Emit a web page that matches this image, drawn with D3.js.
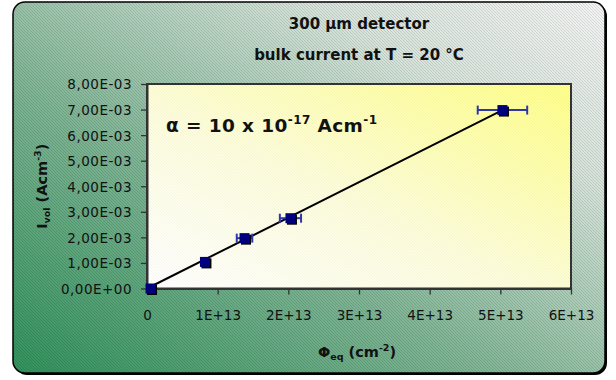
<!DOCTYPE html>
<html>
<head>
<meta charset="utf-8">
<script src="https://cdn.jsdelivr.net/npm/d3@7"></script>
<style>
  html, body { margin: 0; padding: 0; background: #ffffff; }
  svg { display: block; }
  .tick-label { font-family: "DejaVu Sans", Verdana, sans-serif; font-size: 13.5px; fill: #111; }
  .title { font-family: "DejaVu Sans", sans-serif; font-weight: bold; fill: #111; }
</style>
</head>
<body>
<svg id="chart" width="616" height="380"></svg>
<script>
// Fluence (cm^-2) and volume-normalised bulk current (A/cm^3)
const fluence      = [0.05e13, 0.82e13, 1.38e13, 2.03e13, 5.03e13];
const current      = [0.0, 1.04e-3, 1.97e-3, 2.75e-3, 6.98e-3];
const fluenceError = [0.0, 0.03e13, 0.11e13, 0.15e13, 0.35e13];

// Linear fit through the origin
const fitSlope = 1.388e-16;
const fitRange = [0, 5.03e13];

// Axis ticks and their printed labels
const xTicks = [0, 1e13, 2e13, 3e13, 4e13, 5e13, 6e13];
const xTickLabels = ["0", "1E+13", "2E+13", "3E+13", "4E+13", "5E+13", "6E+13"];
const yTicks = [0, 1e-3, 2e-3, 3e-3, 4e-3, 5e-3, 6e-3, 7e-3, 8e-3];
const yTickLabels = ["0,00E+00", "1,00E-03", "2,00E-03", "3,00E-03", "4,00E-03",
                     "5,00E-03", "6,00E-03", "7,00E-03", "8,00E-03"];

const svg = d3.select("#chart");
const defs = svg.append("defs");

// Background gradient: green lower-left fading to pale grey upper-right
const bg = defs.append("linearGradient").attr("id", "bgGrad")
  .attr("x1", "0%").attr("y1", "100%").attr("x2", "100%").attr("y2", "0%");
bg.append("stop").attr("offset", "0%").attr("stop-color", "#31925c");
bg.append("stop").attr("offset", "40%").attr("stop-color", "#80b595");
bg.append("stop").attr("offset", "75%").attr("stop-color", "#d6e3da");
bg.append("stop").attr("offset", "100%").attr("stop-color", "#f4f4f4");

// Plot area gradient: white lower-left to yellow upper-right
const pg = defs.append("linearGradient").attr("id", "plotGrad")
  .attr("x1", "0%").attr("y1", "100%").attr("x2", "100%").attr("y2", "0%");
pg.append("stop").attr("offset", "0%").attr("stop-color", "#ffffff");
pg.append("stop").attr("offset", "45%").attr("stop-color", "#fdfddc");
pg.append("stop").attr("offset", "100%").attr("stop-color", "#ffff88");

// Diagonal hatching
function hatch(id, color, width) {
  const p = defs.append("pattern").attr("id", id)
    .attr("patternUnits", "userSpaceOnUse").attr("width", 3).attr("height", 3);
  p.append("path").attr("d", "M-1,-1 L4,4 M-1,2 L1,4 M2,-1 L4,1")
    .attr("stroke", color).attr("stroke-width", width).attr("fill", "none");
}
hatch("bgHatch", "rgba(0,0,0,0.17)", 0.7);
hatch("plotHatch", "rgba(120,120,120,0.10)", 0.6);

// Outer frame with shadow
const frame = { x: 13, y: 2, w: 592, h: 371, r: 12 };
svg.append("rect").attr("x", frame.x + 2).attr("y", frame.y + 2)
  .attr("width", frame.w).attr("height", frame.h).attr("rx", frame.r).attr("fill", "#000");
svg.append("rect").attr("x", frame.x).attr("y", frame.y)
  .attr("width", frame.w).attr("height", frame.h).attr("rx", frame.r)
  .attr("fill", "url(#bgGrad)").attr("stroke", "#000").attr("stroke-width", 1.5);
svg.append("rect").attr("x", frame.x).attr("y", frame.y)
  .attr("width", frame.w).attr("height", frame.h).attr("rx", frame.r)
  .attr("fill", "url(#bgHatch)");

// Plot geometry
const plot = { left: 147, right: 571, top: 84, bottom: 288.5 };
const x = d3.scaleLinear().domain([0, 6e13]).range([plot.left, plot.right]);
const y = d3.scaleLinear().domain([0, 8e-3]).range([plot.bottom, plot.top]);

svg.append("rect").attr("x", plot.left).attr("y", plot.top)
  .attr("width", plot.right - plot.left).attr("height", plot.bottom - plot.top)
  .attr("fill", "url(#plotGrad)");
svg.append("rect").attr("x", plot.left).attr("y", plot.top)
  .attr("width", plot.right - plot.left).attr("height", plot.bottom - plot.top)
  .attr("fill", "url(#plotHatch)").attr("stroke", "#333").attr("stroke-width", 2);

// Axes
const xAxis = d3.axisBottom(x).tickValues(xTicks)
  .tickFormat((d, i) => xTickLabels[i]).tickSize(6).tickSizeOuter(0).tickPadding(16);
const gx = svg.append("g").attr("transform", `translate(0,${plot.bottom})`).call(xAxis);
const yAxis = d3.axisLeft(y).tickValues(yTicks)
  .tickFormat((d, i) => yTickLabels[i]).tickSize(6).tickSizeOuter(0).tickPadding(9);
const gy = svg.append("g").attr("transform", `translate(${plot.left},0)`).call(yAxis);
[gx, gy].forEach(g => {
  g.select(".domain").attr("stroke", "#333").attr("stroke-width", 2);
  g.selectAll(".tick line").attr("stroke", "#333").attr("stroke-width", 1.3);
  g.selectAll(".tick text").attr("class", "tick-label").attr("font-size", null).attr("font-family", null);
});
gy.selectAll(".tick text").attr("dy", "0.36em").style("letter-spacing", "0.5px");

// Fit line
svg.append("line")
  .attr("x1", x(fitRange[0])).attr("y1", y(fitSlope * fitRange[0]))
  .attr("x2", x(fitRange[1])).attr("y2", y(fitSlope * fitRange[1]))
  .attr("stroke", "#000").attr("stroke-width", 2);

// Horizontal error bars
const data = fluence.map((f, i) => ({ f, c: current[i], e: fluenceError[i] }));
const eb = svg.append("g").attr("stroke", "#3038a8").attr("stroke-width", 2).attr("fill", "none");
data.filter(d => d.e > 0).forEach(d => {
  const yy = y(d.c), x0 = x(d.f - d.e), x1 = x(d.f + d.e);
  eb.append("line").attr("x1", x0).attr("x2", x1).attr("y1", yy).attr("y2", yy);
  eb.append("line").attr("x1", x0).attr("x2", x0).attr("y1", yy - 4.5).attr("y2", yy + 4.5);
  eb.append("line").attr("x1", x1).attr("x2", x1).attr("y1", yy - 4.5).attr("y2", yy + 4.5);
});

// Square markers with a small drop shadow
const ms = 10;
svg.append("g").selectAll("rect").data(data).join("rect")
  .attr("x", d => x(d.f) - ms / 2 + 1.5).attr("y", d => y(d.c) - ms / 2 + 1.5)
  .attr("width", ms).attr("height", ms).attr("fill", "#000");
svg.append("g").selectAll("rect").data(data).join("rect")
  .attr("x", d => x(d.f) - ms / 2).attr("y", d => y(d.c) - ms / 2)
  .attr("width", ms).attr("height", ms).attr("fill", "#00007f");

// Titles
const cx = (plot.left + plot.right) / 2;
svg.append("text").attr("class", "title").style("font-size", "15px")
  .attr("x", cx).attr("y", 29).attr("text-anchor", "middle").text("300 \u00b5m detector");
svg.append("text").attr("class", "title").style("font-size", "15px")
  .attr("x", cx).attr("y", 60).attr("text-anchor", "middle").text("bulk current at T = 20 \u00b0C");

// X axis title: Φeq (cm-2)
const xt = svg.append("text").attr("class", "title").style("font-size", "14.5px")
  .attr("x", cx - 2).attr("y", 357).attr("text-anchor", "middle");
xt.append("tspan").text("\u03a6");
xt.append("tspan").style("font-size", "9.5px").attr("dy", 3).text("eq");
xt.append("tspan").attr("dy", -3).text(" (cm");
xt.append("tspan").style("font-size", "9.5px").attr("dy", -6).text("-2");
xt.append("tspan").attr("dy", 6).text(")");

// Y axis title: Ivol (Acm-3)
const yt = svg.append("text").attr("class", "title").style("font-size", "14.5px")
  .attr("transform", `translate(47,${(plot.top + plot.bottom) / 2}) rotate(-90)`)
  .attr("text-anchor", "middle");
yt.append("tspan").text("I");
yt.append("tspan").style("font-size", "9.5px").attr("dy", 3).text("vol");
yt.append("tspan").attr("dy", -3).text(" (Acm");
yt.append("tspan").style("font-size", "9.5px").attr("dy", -6).text("-3");
yt.append("tspan").attr("dy", 6).text(")");

// Fit annotation
const an = svg.append("text").attr("class", "title")
  .style("font-size", "18.5px").style("letter-spacing", "0.4px")
  .attr("x", 166).attr("y", 132);
an.append("tspan").text("\u03b1 = 10 x 10");
an.append("tspan").style("font-size", "12px").attr("dy", -8).text("-17");
an.append("tspan").attr("dy", 8).text(" Acm");
an.append("tspan").style("font-size", "12px").attr("dy", -8).text("-1");
</script>
</body>
</html>
